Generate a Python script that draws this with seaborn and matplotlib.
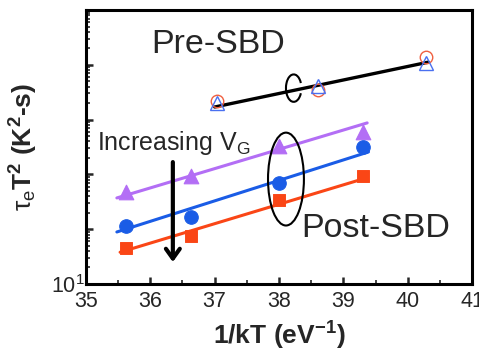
import matplotlib
matplotlib.use('Agg')
import matplotlib.pyplot as plt
import pandas as pd
import seaborn as sns
from matplotlib.patches import Ellipse, Arc

# data
x_post = [35.62, 36.63, 38.00, 39.31]
y_purple = [479, 933, 3340, 5900]
y_blue = [115, 167, 690, 3160]
y_red = [45.4, 75, 340, 933]

# fit lines (end points)
fit_x_purple = [35.48, 39.37]
fit_y_purple = [372, 8710]
fit_x_blue = [35.48, 39.39]
fit_y_blue = [89, 2570]
fit_x_red = [35.53, 39.34]
fit_y_red = [38, 851]

x_pre = [37.04, 38.60, 40.29]
y_pre_circ = [21900, 34700, 138000]
y_pre_tri = [20000, 40700, 107000]
fit_x_pre = [37.0, 40.32]
fit_y_pre = [17000, 112000]

xticks = [35, 36, 37, 38, 39, 40, 41]
yticks = [1e1, 1e2, 1e3, 1e4, 1e5, 1e6]
ytick_labels = ['$\\mathregular{10^1}$', '', '', '', '', '']

purple = '#b36ef5'
blue = '#1a5ce6'
red = '#fa4616'

sns.set_style('ticks')
plt.rcParams['font.family'] = ['Liberation Sans', 'DejaVu Sans']
plt.rcParams['mathtext.fontset'] = 'custom'
plt.rcParams['mathtext.rm'] = 'Liberation Sans'
plt.rcParams['mathtext.it'] = 'Liberation Sans'
plt.rcParams['mathtext.bf'] = 'Liberation Sans:bold'

fig = plt.figure(figsize=(4.79, 3.53), dpi=100)
ax = fig.add_axes([0.1795, 0.1955, 0.806, 0.776])
ax.set_yscale('log')

# fit lines
for fx, fy, c, lw in [(fit_x_purple, fit_y_purple, purple, 2.2),
                      (fit_x_blue, fit_y_blue, blue, 2.2),
                      (fit_x_red, fit_y_red, red, 2.2),
                      (fit_x_pre, fit_y_pre, 'black', 2.4)]:
    sns.lineplot(x=fx, y=fy, color=c, linewidth=lw, ax=ax, zorder=2)

# post-SBD markers
sns.scatterplot(x=x_post, y=y_purple, marker='^', s=110, color=purple, edgecolor=purple, ax=ax, zorder=3)
sns.scatterplot(x=x_post, y=y_blue, marker='o', s=95, color=blue, edgecolor=blue, ax=ax, zorder=3)
sns.scatterplot(x=x_post, y=y_red, marker='s', s=70, color=red, edgecolor=red, ax=ax, zorder=3)

# pre-SBD markers (open)
ax.plot(x_pre, y_pre_circ, 'o', ms=9, mfc='none', mec='#f06040', mew=1.0, zorder=3)
ax.plot(x_pre, y_pre_tri, '^', ms=10, mfc='none', mec='#4a70f0', mew=1.0, zorder=3)

ax.set_xlim(35, 41)
ax.set_ylim(1e1, 1e6)
ax.set_xticks(xticks)
ax.set_xticklabels([str(t) for t in xticks])
ax.xaxis.set_minor_locator(matplotlib.ticker.MultipleLocator(0.5))
ax.set_yticks(yticks)
ax.set_yticklabels(ytick_labels)
ax.yaxis.set_minor_locator(matplotlib.ticker.LogLocator(base=10, subs=range(2, 10)))
ax.yaxis.set_minor_formatter(matplotlib.ticker.NullFormatter())

ax.tick_params(which='major', direction='in', length=5, width=1.8, labelsize=15.5)
ax.tick_params(axis='x', pad=5)
ax.tick_params(axis='y', pad=1)
ax.tick_params(which='minor', direction='in', length=3, width=1.2)
for s in ax.spines.values():
    s.set_linewidth(2.2)
    s.set_color('black')

ax.set_xlabel('1/kT (eV$^{\\mathbf{-1}}$)', fontsize=19, fontweight='bold', labelpad=6)
ax.set_ylabel('$\\tau_e\\mathbf{T^2}$ (K$^{\\mathbf{2}}$-s)', fontsize=19, fontweight='bold', labelpad=8)

# annotations
ax.text(0.342, 0.876, 'Pre-SBD', transform=ax.transAxes, fontsize=24.5, ha='center', va='center')
ax.text(0.751, 0.204, 'Post-SBD', transform=ax.transAxes, fontsize=24.5, ha='center', va='center')
ax.text(0.028, 0.515, 'Increasing V$_\\mathregular{G}$', transform=ax.transAxes, fontsize=18,
        ha='left', va='center')
ax.annotate('', xy=(0.225, 0.08), xytext=(0.225, 0.445), xycoords='axes fraction',
            arrowprops=dict(arrowstyle='->,head_length=0.7,head_width=0.5', lw=3, color='black',
                            shrinkA=0, shrinkB=0))
ax.add_patch(Ellipse((0.518, 0.383), 0.093, 0.339, transform=ax.transAxes,
                     fill=False, lw=1.5, ec='black', zorder=4))
ax.add_patch(Arc((0.538, 0.715), 0.04, 0.10, theta1=45, theta2=315, transform=ax.transAxes,
                 lw=1.5, color='black', zorder=4))

fig.savefig('out.png', dpi=100)
